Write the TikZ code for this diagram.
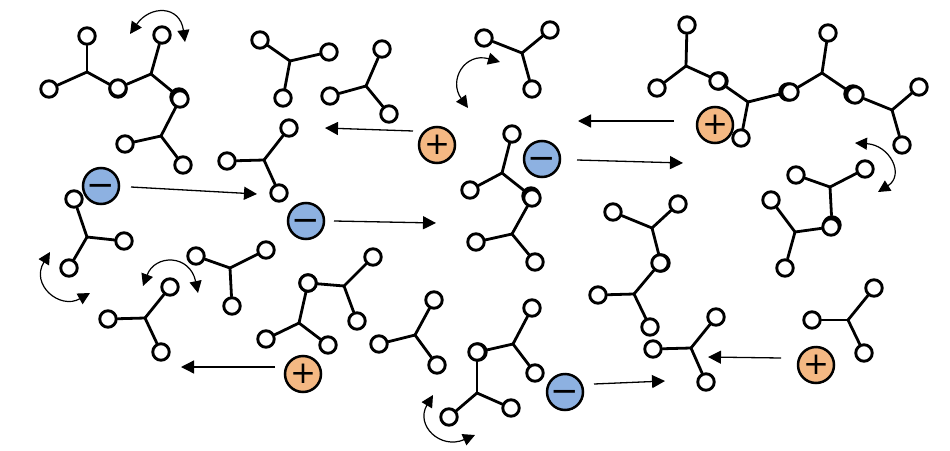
\documentclass[tikz,border=0pt]{standalone}
\usepackage{amsmath,amssymb}
\usepackage{xcolor}
\usepackage{fontspec}
\usepackage{tikz}
\usetikzlibrary{arrows.meta}
\newfontfamily\ionfont{DejaVu Sans}
\definecolor{ionblue}{HTML}{8DB1E1}
\definecolor{ionorange}{HTML}{F4B883}
\tikzset{
  atom/.style={circle,draw=black,fill=white,line width=2.9pt,minimum size=16.5pt,inner sep=0pt},
  bond/.style={line width=2.8pt,line cap=round},
  ion/.style={circle,draw=black,line width=2.5pt,minimum size=36pt,inner sep=0pt,text depth=0pt},
  anion/.style={ion,fill=ionblue,text height=21pt,font=\ionfont\fontsize{34}{34}\selectfont},
  cation/.style={ion,fill=ionorange,text height=19.4pt,font=\ionfont\fontsize{31}{31}\selectfont},
  flow/.style={-{Triangle[length=13pt,width=13pt]},line width=1.3pt},
  swing/.style={{Triangle[length=12pt,width=12pt]}-{Triangle[length=12pt,width=12pt]},line width=1.2pt}
}
\begin{document}
\begin{tikzpicture}[x=1pt,y=-1pt]
  \def\molecule#1#2#3#4#5{
    \coordinate (#1) at (#2);
    \node[atom] (#1a) at (#3) {};
    \node[atom] (#1b) at (#4) {};
    \node[atom] (#1c) at (#5) {};
    \draw[bond] (#1) -- (#1a);
    \draw[bond] (#1) -- (#1b);
    \draw[bond] (#1) -- (#1c);
  }
  \useasboundingbox (0,0) rectangle (950,450);

  %ions%
  \node[anion] (na) at (101,186) {−};
  \node[anion] (nb) at (306,221) {−};
  \node[anion] (nc) at (542,159) {−};
  \node[anion] (nd) at (565,392) {−};
  \node[cation] (pa) at (437,145) {+};
  \node[cation] (pb) at (715,125) {+};
  \node[cation] (pc) at (303,374) {+};
  \node[cation] (pd) at (816,365) {+};

  %top left chains%
  \molecule{ma}{87,72}{87,36}{49,89}{118,89}
  \molecule{mb}{151,74}{162,35}{118,88}{179,97}
  \molecule{mc}{161,136}{180,99}{125,144}{183,165}
  \molecule{md}{290,61}{260,40}{329,52}{283,98}
  \molecule{me}{366,86}{382,49}{330,96}{389,114}
  \molecule{mf}{264,160}{289,128}{227,161}{279,193}

  %top right chains%
  \molecule{mg}{522,53}{484,38}{550,30}{532,89}
  \molecule{mh}{686,66}{687,25}{657,88}{719,81}
  \molecule{mi}{748,102}{718,81}{788,92}{741,138}
  \molecule{mj}{822,73}{828,33}{790,92}{853,94}
  \molecule{mk}{892,110}{855,95}{919,87}{902,145}
  \molecule{ml}{830,187}{796,175}{865,169}{832,225}
  \molecule{mm}{795,232}{771,200}{831,227}{785,268}

  %centre%
  \molecule{mn}{502,173}{512,134}{470,190}{531,196}
  \molecule{mo}{512,234}{532,198}{476,242}{535,262}
  \molecule{mp}{652,228}{613,212}{678,204}{661,263}
  \molecule{mq}{634,294}{660,263}{598,295}{650,327}
  \molecule{mr}{691,348}{716,317}{653,349}{706,382}
  \molecule{ms}{848,320}{874,288}{812,320}{864,353}
  \molecule{mt}{513,344}{532,308}{478,352}{535,373}
  \molecule{mu}{477,393}{477,352}{449,417}{511,408}

  %lower left%
  \molecule{mv}{87,237}{74,199}{124,241}{69,268}
  \molecule{mw}{230,268}{196,256}{266,250}{232,306}
  \molecule{mx}{145,318}{170,287}{108,319}{161,352}
  \molecule{my}{344,286}{308,283}{373,257}{357,321}
  \molecule{mz}{299,323}{308,283}{266,339}{328,345}
  \molecule{mzz}{415,335}{434,300}{379,344}{437,365}

  %drift of the ions%
  \foreach \n/\sx/\sy/\ex/\ey in {fa/131/187/257/194, fb/334/221/436/223, fc/413/131/325/128, fd/674/121/578/121,
                        fe/577/160/683/163, ff/275/367/181/367, fg/594/384/665/381, fh/781/358/708/357}{
    \coordinate (\n s) at (\sx,\sy);
    \coordinate (\n e) at (\ex,\ey);
    \draw[flow] (\n s) -- (\n e);
  }

  %rotation of the bonds%
  \coordinate (sa) at (130,34);
  \coordinate (sb) at (185,42);
  \coordinate (sc) at (500,62);
  \coordinate (sd) at (468,108);
  \coordinate (se) at (855,143);
  \coordinate (sf) at (878,192);
  \coordinate (sg) at (50,252);
  \coordinate (sh) at (90,293);
  \coordinate (si) at (143,286);
  \coordinate (sj) at (198,293);
  \coordinate (sk) at (433,395);
  \coordinate (sl) at (475,435);
  \draw[swing] (sa) .. controls (150,5) and (180,5) .. (sb);
  \draw[swing] (sc) .. controls (465,52) and (448,80) .. (sd);
  \draw[swing] (se) .. controls (890,145) and (905,175) .. (sf);
  \draw[swing] (sg) .. controls (30,285) and (60,310) .. (sh);
  \draw[swing] (si) .. controls (155,254) and (190,254) .. (sj);
  \draw[swing] (sk) .. controls (415,425) and (440,450) .. (sl);
\end{tikzpicture}
\end{document}
